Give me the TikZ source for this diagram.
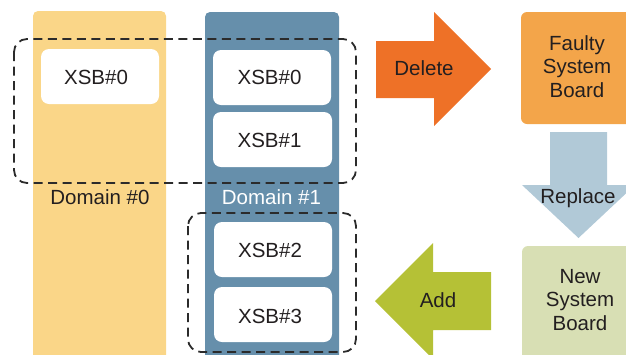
\documentclass[tikz,border=0pt]{standalone}
\usepackage{fontspec}
\setmainfont{Liberation Sans}
\definecolor{domzero}{HTML}{FAD688}
\definecolor{domone}{HTML}{668FAB}
\definecolor{delcol}{HTML}{EE7127}
\definecolor{faultycol}{HTML}{F3A54A}
\definecolor{replcol}{HTML}{B1C9D7}
\definecolor{newcol}{HTML}{D8DFB4}
\definecolor{addcol}{HTML}{B5C136}
\definecolor{txt}{HTML}{231F20}
\definecolor{dashcol}{HTML}{2B2B2B}
\begin{document}
\begin{tikzpicture}[x=1pt,y=-1pt,
  lbl/.style={font=\fontsize{20.5}{23.5}\selectfont, text=txt, align=center, inner sep=0pt, anchor=base},
  board/.style={fill=white, rounded corners=8pt},
  grp/.style={draw=dashcol, line width=1.8pt, dash pattern=on 9pt off 5.5pt, rounded corners=13pt}]
\useasboundingbox (0,0) rectangle (626,354);
\clip (0,0) rectangle (626,354);

% domain columns
\fill[domzero, rounded corners=5pt] (33,380) -- (33,11) -- (166,11) -- (166,380) -- cycle;
\fill[domone, rounded corners=5pt] (205,380) -- (205,12) -- (339,12) -- (339,380) -- cycle;

% system boards inside the domains
\fill[board] (41,49) rectangle (159,104);
\fill[board] (213,50) rectangle (331,105);
\fill[board] (213,112) rectangle (332,167);
\fill[board] (214,222) rectangle (332,277);
\fill[board] (214,287) rectangle (332,342);

\node[lbl] (b00) at (96,84.5) {XSB\#0};
\node[lbl] (b10) at (269.5,84.5) {XSB\#0};
\node[lbl] (b11) at (269.5,147.5) {XSB\#1};
\node[lbl] (b12) at (270,257.5) {XSB\#2};
\node[lbl] (b13) at (270,323.5) {XSB\#3};
\node[lbl] (d0) at (100,204.5) {Domain \#0};
\node[lbl, text=white] (d1) at (271.5,204.5) {Domain \#1};

% dashed groupings
\draw[grp] (14,39) rectangle (356,183);
\draw[grp] (188,213) rectangle (356,352);

% replacement boards
\fill[faultycol, rounded corners=6pt] (521,12) rectangle (645,124);
\fill[newcol, rounded corners=6pt] (522,246) rectangle (645,380);
\node[lbl] (faulty) at (577,97) {Faulty\\System\\Board};
\node[lbl] (newb) at (580,330) {New\\System\\Board};

% block arrows
\fill[delcol] (376,41) -- (434,41) -- (434,12) -- (491,69) -- (434,126) -- (434,98) -- (376,98) -- cycle;
\node[lbl] (del) at (424,75) {Delete};
\fill[replcol] (550,132) -- (607,132) -- (607,185) -- (635,185) -- (578.5,238) -- (522,185) -- (550,185) -- cycle;
\node[lbl] (repl) at (578,203) {Replace};
\fill[addcol] (375,301) -- (433,243) -- (433,272) -- (491,272) -- (491,330) -- (433,330) -- (433,359) -- cycle;
\node[lbl] (add) at (438,307) {Add};
\end{tikzpicture}
\end{document}
